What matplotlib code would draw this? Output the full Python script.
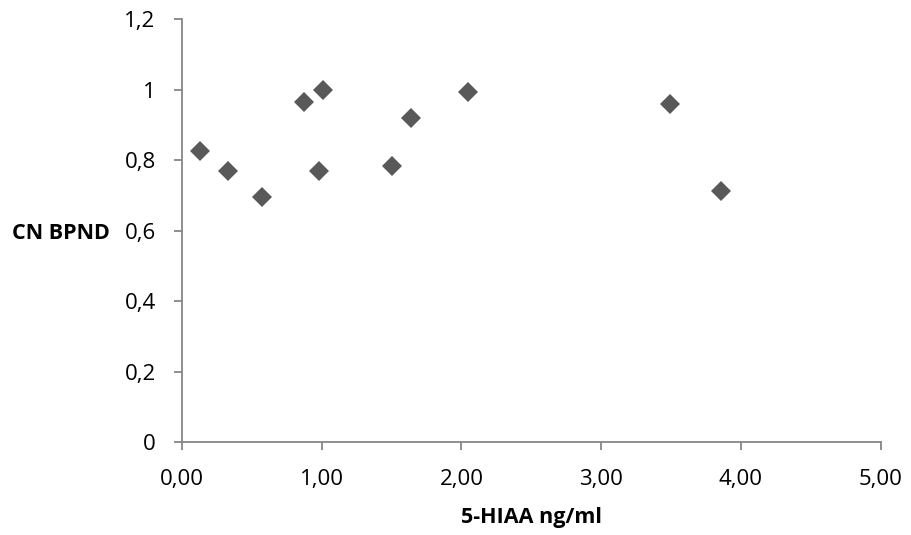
import numpy as np
import matplotlib.pyplot as plt

# data
hiaa = [0.13, 0.33, 0.57, 0.87, 0.98, 1.01, 1.50, 1.64, 2.05, 3.49, 3.86]
cn_bpnd = [0.825, 0.769, 0.697, 0.966, 0.771, 0.999, 0.784, 0.921, 0.995, 0.961, 0.713]

x_ticks = [0, 1, 2, 3, 4, 5]
y_ticks = [0, 0.2, 0.4, 0.6, 0.8, 1.0, 1.2]
x_ticklabels = ['0,00', '1,00', '2,00', '3,00', '4,00', '5,00']
y_ticklabels = ['0', '0,2', '0,4', '0,6', '0,8', '1', '1,2']

plt.rcParams['font.family'] = ['Open Sans', 'DejaVu Sans']

fig = plt.figure(figsize=(9.11, 5.35), dpi=100)
ax = fig.add_axes([0.1998, 0.1733, 0.7669, 0.7906])

ax.plot(hiaa, cn_bpnd, 'D', color='#595959', markersize=10, markeredgewidth=0)

ax.set_xlim(0, 5)
ax.set_ylim(0, 1.2)
ax.set_xticks(x_ticks)
ax.set_xticklabels(x_ticklabels)
ax.set_yticks(y_ticks)
ax.set_yticklabels(y_ticklabels)

axis_col = '#868686'
for s in ['top', 'right']:
  ax.spines[s].set_visible(False)
for s in ['left', 'bottom']:
  ax.spines[s].set_color(axis_col)
  ax.spines[s].set_linewidth(1.3)
ax.tick_params(axis='both', colors=axis_col, width=1.3, length=6, labelsize=16, labelcolor='black')
ax.tick_params(axis='x', pad=13)
ax.tick_params(axis='y', pad=13)

ax.set_xlabel('5-HIAA ng/ml', fontsize=15.5, fontweight='bold', ha='center', va='baseline')
ax.xaxis.set_label_coords(0.5, -0.191)
ax.set_ylabel('CN BPND', fontsize=15.5, fontweight='bold', rotation=0, ha='right', va='baseline')
ax.yaxis.set_label_coords(-0.103, 0.481)

fig.savefig('out.png', dpi=100)
